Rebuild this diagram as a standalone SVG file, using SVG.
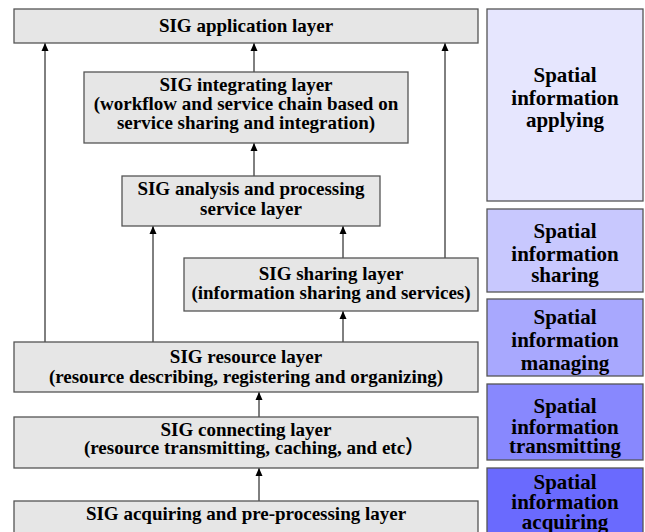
<svg xmlns="http://www.w3.org/2000/svg" width="645" height="532" viewBox="0 0 645 532">
<style>
.box{fill:#e6e6e6;stroke:#555;stroke-width:1.3}
.side{stroke:#555;stroke-width:1.3}
.t{font-family:"Liberation Serif","Times New Roman","Noto Sans CJK SC",serif;font-weight:bold;font-size:19px;fill:#000;text-anchor:middle}
.s{font-family:"Liberation Serif","Times New Roman",serif;font-weight:bold;font-size:21px;fill:#000;text-anchor:middle}
.c{stroke:#000;stroke-width:1;fill:none;marker-end:url(#ah)}
</style>
<defs>
<marker id="ah" viewBox="0 0 8 10" refX="8" refY="5" markerWidth="8" markerHeight="10" markerUnits="userSpaceOnUse" orient="auto">
<path d="M0,1.5 L8,5 L0,8.5 Z" fill="#000"/>
</marker>
</defs>
<rect width="645" height="532" fill="#fff"/>
<g id="connectors">
<path class="c" d="M45,342 V43"/>
<path class="c" d="M254,72 V43"/>
<path class="c" d="M254,176 V143"/>
<path class="c" d="M445,258 V43"/>
<path class="c" d="M153,342 V226"/>
<path class="c" d="M343,258 V226"/>
<path class="c" d="M343,342 V311"/>
<path class="c" d="M259,417 V392"/>
<path class="c" d="M259,501 V468"/>
</g>
<g id="application">
<rect class="box" x="14" y="9" width="464" height="34"/>
<text class="t" x="246" y="32">SIG application layer</text>
</g>
<g id="integrating">
<rect class="box" x="84" y="72" width="324" height="71"/>
<text class="t" x="246" y="91">SIG integrating layer</text>
<text class="t" x="246" y="110">(workflow and service chain based on</text>
<text class="t" x="246" y="129">service sharing and integration)</text>
</g>
<g id="analysis">
<rect class="box" x="122" y="176" width="258" height="50"/>
<text class="t" x="251" y="195">SIG analysis and processing</text>
<text class="t" x="251" y="215">service layer</text>
</g>
<g id="sharing">
<rect class="box" x="184" y="258" width="294" height="53"/>
<text class="t" x="331" y="280">SIG sharing layer</text>
<text class="t" x="331" y="299">(information sharing and services)</text>
</g>
<g id="resource">
<rect class="box" x="14" y="342" width="464" height="50"/>
<text class="t" x="246" y="363">SIG resource layer</text>
<text class="t" x="246" y="383">(resource describing, registering and organizing)</text>
</g>
<g id="connecting">
<rect class="box" x="14" y="417" width="464" height="51"/>
<text class="t" x="246" y="436">SIG connecting layer</text>
<text class="t" x="254" y="454">(resource transmitting, caching, and etc）</text>
</g>
<g id="acquiring">
<rect class="box" x="14" y="501" width="464" height="45"/>
<text class="t" x="246" y="520">SIG acquiring and pre-processing layer</text>
</g>
<g id="side-applying">
<rect class="side" x="487" y="9" width="156" height="192" fill="#e6e6fe"/>
<text class="s" x="565" y="82">Spatial</text>
<text class="s" x="565" y="105">information</text>
<text class="s" x="565" y="127">applying</text>
</g>
<g id="side-sharing">
<rect class="side" x="487" y="209" width="156" height="83" fill="#c8c8fe"/>
<text class="s" x="565" y="238">Spatial</text>
<text class="s" x="565" y="261">information</text>
<text class="s" x="565" y="282">sharing</text>
</g>
<g id="side-managing">
<rect class="side" x="487" y="299" width="156" height="77" fill="#a8a8fe"/>
<text class="s" x="565" y="324">Spatial</text>
<text class="s" x="565" y="347">information</text>
<text class="s" x="565" y="370">managing</text>
</g>
<g id="side-transmitting">
<rect class="side" x="487" y="384" width="156" height="76" fill="#8888fe"/>
<text class="s" x="565" y="413">Spatial</text>
<text class="s" x="565" y="434">information</text>
<text class="s" x="565" y="453">transmitting</text>
</g>
<g id="side-acquiring">
<rect class="side" x="487" y="468" width="156" height="78" fill="#6a6afe"/>
<text class="s" x="565" y="489">Spatial</text>
<text class="s" x="565" y="509">information</text>
<text class="s" x="565" y="529">acquiring</text>
</g>
</svg>
